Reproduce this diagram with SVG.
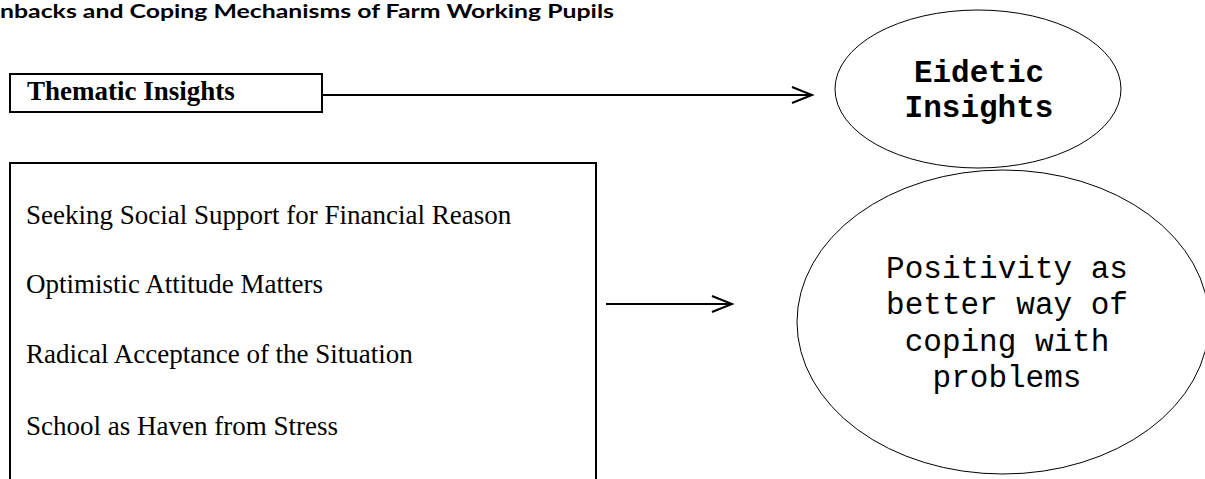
<svg xmlns="http://www.w3.org/2000/svg" width="1205" height="479" viewBox="0 0 1205 479">
<style>
.box{fill:#fff;stroke:#000;stroke-width:2}
.ell{fill:#fff;stroke:#000;stroke-width:1}
.conn{stroke:#000;stroke-width:2;fill:none}
.title{font-family:Lato,"Liberation Sans",sans-serif;font-weight:bold;font-size:18px;fill:#000}
.serif{font-family:"Liberation Serif",serif;font-size:27px;fill:#000}
.mono{font-family:"Liberation Mono",monospace;font-size:31px;fill:#000;text-anchor:middle}
</style>
<rect width="1205" height="479" fill="#fff"/>
<text class="title" x="0" y="18" textLength="614" lengthAdjust="spacingAndGlyphs">nbacks and Coping Mechanisms of Farm Working Pupils</text>
<g id="thematic">
<rect class="box" x="10" y="74" width="312" height="38"/>
<text class="serif" x="27" y="100" font-weight="bold" font-size="26">Thematic Insights</text>
</g>
<g id="themes">
<rect class="box" x="10" y="163" width="586" height="340"/>
<text class="serif" x="26" y="224">Seeking Social Support for Financial Reason</text>
<text class="serif" x="26" y="293">Optimistic Attitude Matters</text>
<text class="serif" x="26" y="363">Radical Acceptance of the Situation</text>
<text class="serif" x="26" y="435">School as Haven from Stress</text>
</g>
<g id="eidetic">
<ellipse class="ell" cx="978" cy="89" rx="143" ry="79"/>
<text class="mono" x="979" y="82" font-weight="bold">Eidetic</text>
<text class="mono" x="979" y="117" font-weight="bold">Insights</text>
</g>
<g id="positivity">
<ellipse class="ell" cx="1003" cy="322" rx="206" ry="152"/>
<text class="mono" x="1007" y="278">Positivity as</text>
<text class="mono" x="1007" y="314">better way of</text>
<text class="mono" x="1007" y="351">coping with</text>
<text class="mono" x="1007" y="387">problems</text>
</g>
<g id="connectors">
<path class="conn" d="M322 95 H812 M792 87 L812 95 L792 103"/>
<path class="conn" d="M606 304 H732 M712 296 L732 304 L712 312"/>
</g>
</svg>
